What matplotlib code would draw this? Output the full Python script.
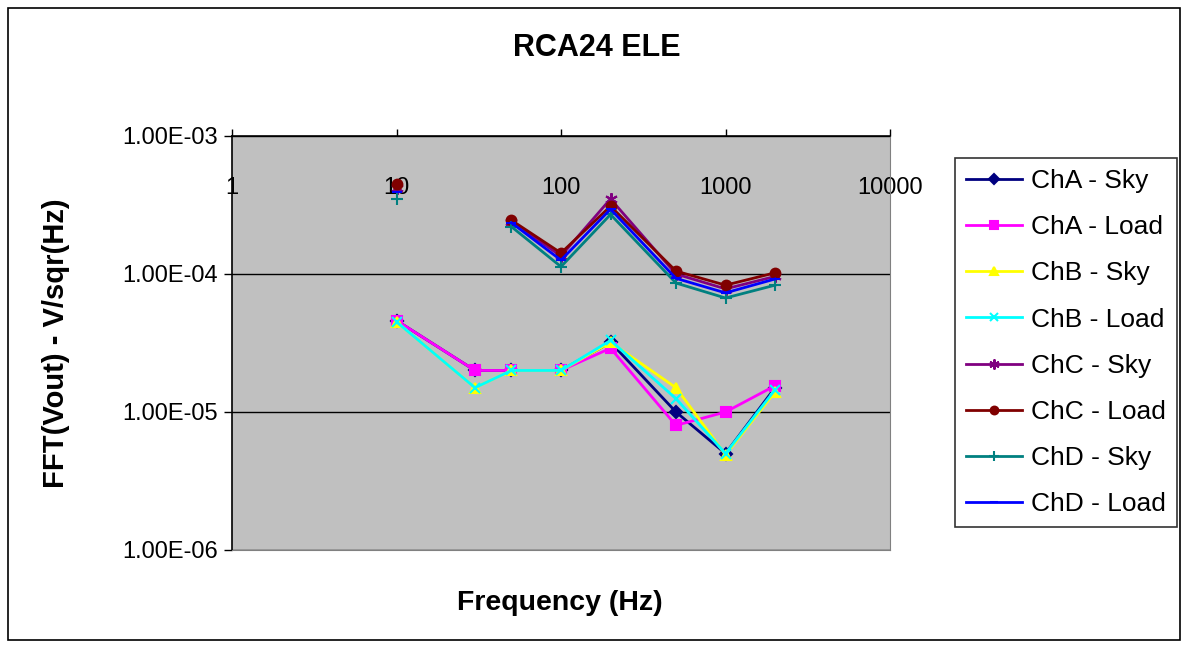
import numpy as np
import matplotlib
matplotlib.use('Agg')
import matplotlib.pyplot as plt
from matplotlib.patches import Rectangle
from matplotlib.ticker import FixedLocator, NullLocator

plt.rcParams['font.family'] = ['Liberation Sans', 'DejaVu Sans']

nan = np.nan
freq = [10, 30, 50, 100, 200, 500, 1000, 2000]

cha_sky = [4.6e-5, 2.0e-5, 2.0e-5, 2.0e-5, 3.2e-5, 1.0e-5, 5.0e-6, 1.5e-5]
cha_load = [4.6e-5, 2.0e-5, 2.0e-5, 2.0e-5, 2.9e-5, 8.0e-6, 1.0e-5, 1.55e-5]
chb_sky = [4.5e-5, 1.5e-5, 2.0e-5, 2.0e-5, 3.2e-5, 1.5e-5, 4.9e-6, 1.4e-5]
chb_load = [4.5e-5, 1.5e-5, 2.0e-5, 2.0e-5, 3.3e-5, 1.25e-5, 5.0e-6, 1.45e-5]
chc_sky = [4.2e-4, nan, 2.4e-4, 1.35e-4, 3.5e-4, 1.0e-4, 7.8e-5, 9.6e-5]
chc_load = [4.5e-4, nan, 2.45e-4, 1.42e-4, 3.1e-4, 1.05e-4, 8.3e-5, 1.02e-4]
chd_sky = [3.5e-4, nan, 2.2e-4, 1.13e-4, 2.7e-4, 8.6e-5, 6.7e-5, 8.3e-5]
chd_load = [3.9e-4, nan, 2.35e-4, 1.26e-4, 2.95e-4, 9.3e-5, 7.3e-5, 9.2e-5]

yticks = [1e-6, 1e-5, 1e-4, 1e-3]
ytick_labels = ['1.00E-06', '1.00E-05', '1.00E-04', '1.00E-03']
xticks = [1, 10, 100, 1000, 10000]
xtick_labels = ['1', '10', '100', '1000', '10000']

series = [
    ('ChA - Sky', cha_sky, '#000080', 'D', 6),
    ('ChA - Load', cha_load, '#FF00FF', 's', 7),
    ('ChB - Sky', chb_sky, '#FFFF00', '^', 7),
    ('ChB - Load', chb_load, '#00FFFF', 'x', 7),
    ('ChC - Sky', chc_sky, '#800080', (6, 2, 0), 9),
    ('ChC - Load', chc_load, '#800000', 'o', 7),
    ('ChD - Sky', chd_sky, '#008080', '+', 9),
    ('ChD - Load', chd_load, '#0000FF', '_', 7),
]

fig = plt.figure(figsize=(11.86, 6.47), dpi=100)
fig.patches.append(Rectangle((8 / 1186, 1 - 640 / 647), 1172 / 1186, 632 / 647,
                             transform=fig.transFigure, fill=False,
                             edgecolor='black', linewidth=1.2))

ax = fig.add_axes([232 / 1186, 1 - 550 / 647, (890 - 232) / 1186, (550 - 136) / 647])
ax.set_facecolor('#C0C0C0')

for label, vals, color, marker, ms in series:
    ax.plot(freq, vals, color=color, marker=marker, markersize=ms, linewidth=2,
            markeredgewidth=1.5, markerfacecolor=color, markeredgecolor=color, label=label)

ax.set_xscale('log')
ax.set_yscale('log')
ax.set_xlim(1, 10000)
ax.set_ylim(1e-6, 1e-3)

ax.yaxis.set_major_locator(FixedLocator(yticks))
ax.set_yticklabels(ytick_labels)
ax.yaxis.set_minor_locator(NullLocator())
ax.xaxis.set_major_locator(FixedLocator(xticks))
ax.set_xticklabels(xtick_labels)
ax.xaxis.set_minor_locator(NullLocator())

ax.tick_params(axis='y', direction='out', length=6, width=1, labelsize=17, pad=4)
ax.tick_params(axis='x', top=True, bottom=False, labeltop=True, labelbottom=False,
               direction='out', length=5, width=1, labelsize=17, pad=-50)

ax.grid(axis='y', which='major', color='black', linewidth=1)
for side in ['right', 'bottom']:
    ax.spines[side].set_color('#808080')
ax.spines['left'].set_color('black')
ax.spines['top'].set_color('black')
ax.spines['left'].set_linewidth(1.2)
ax.spines['top'].set_linewidth(1.2)

ax.set_xlabel('Frequency (Hz)', fontsize=20.5, fontweight='bold')
ax.set_ylabel('FFT(Vout) - V/sqr(Hz)', fontsize=21, fontweight='bold')
ax.xaxis.set_label_coords(0.498, -0.097)
ax.yaxis.set_label_coords(-0.246, 0.5)

fig.text(597 / 1186, 1 - 48 / 647, 'RCA24 ELE', ha='center', va='center',
         fontsize=22, fontweight='bold')

leg = fig.legend(loc='upper left', bbox_to_anchor=(955 / 1186, 1 - 158 / 647),
                 fontsize=19, frameon=True, fancybox=False, edgecolor='black',
                 labelspacing=0.84, handlelength=2.1, handletextpad=0.35,
                 borderpad=0.42, borderaxespad=0, markerscale=0.8)
leg.get_frame().set_linewidth(1.2)

fig.savefig('out.png', dpi=100)
